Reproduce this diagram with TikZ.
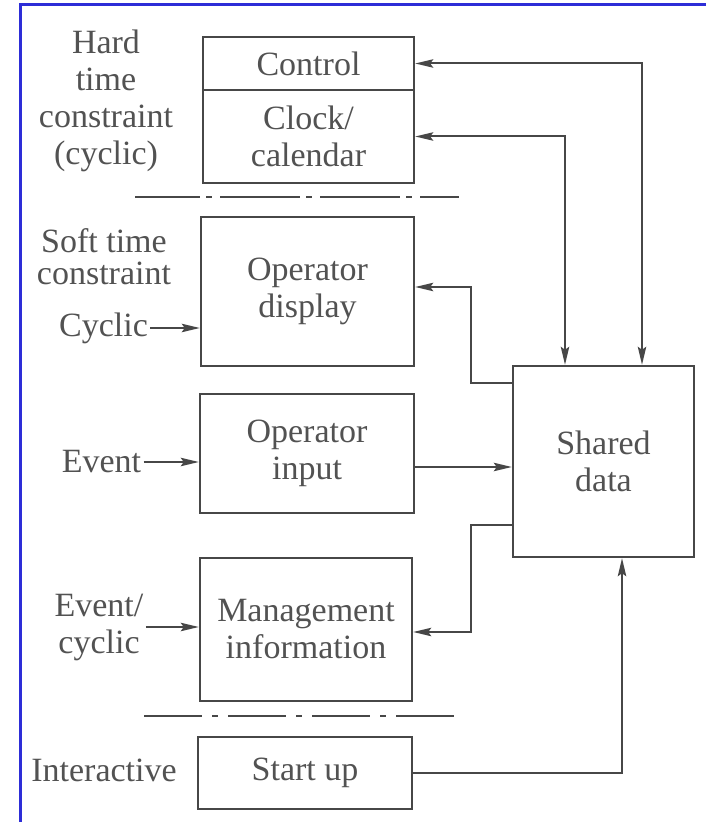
\documentclass[tikz,border=0pt]{standalone}
\usepackage{fontspec}
\setmainfont{Liberation Serif}
\usetikzlibrary{arrows.meta,calc}
\definecolor{framec}{RGB}{45,45,215}
\colorlet{linec}{black!72}
\colorlet{textc}{black!68}
\tikzset{
  x=0.5pt, y=-0.5pt,
  every node/.style={text=textc, font=\fontsize{17}{18.5}\selectfont},
  blockbox/.style={draw=linec, line width=1.2pt, inner sep=0pt, align=center},
  sidelabel/.style={inner sep=1pt, align=center},
  tip/.style={},
  conn/.style={draw=linec, line width=1pt, -{Stealth[length=9pt,width=4.2pt,inset=1.5pt]}},
  biconn/.style={draw=linec, line width=1pt, {Stealth[length=9pt,width=4.2pt,inset=1.5pt]}-{Stealth[length=9pt,width=4.2pt,inset=1.5pt]}},
  sepone/.style={draw=linec, line width=1.2pt, dash pattern=on 40pt off 3pt on 3pt off 4pt, dash phase=7.5pt},
  septwo/.style={draw=linec, line width=1.2pt, dash pattern=on 29pt off 5pt on 3pt off 5pt},
}
\begin{document}
\begin{tikzpicture}
\useasboundingbox (0,0) rectangle (706,822);
\fill[white] (0,0) rectangle (706,822);

% frame edges
\draw[framec, line width=1.5pt] (706,5) -- (20,5) -- (20,822);

% task blocks
\node[blockbox, minimum width=105.5pt, minimum height=26.5pt] (control) at (308.5,63.5) {Control};
\node[blockbox, minimum width=105.5pt, minimum height=46.5pt] (clock) at (308.5,136.5) {Clock/\\calendar};
\node[blockbox, minimum width=106.5pt, minimum height=74.5pt] (display) at (307.5,291.5) {Operator\\display};
\node[blockbox, minimum width=107pt, minimum height=59.5pt] (input) at (307,453.5) {Operator\\input};
\node[blockbox, minimum width=106pt, minimum height=71.5pt] (mgmt) at (306,629.5) {Management\\information};
\node[blockbox, minimum width=107pt, minimum height=36pt] (startup) at (305,773) {Start up};
\node[blockbox, minimum width=90.5pt, minimum height=95.5pt] (shared) at (603.5,461.5) {Shared\\data};

% category labels
\node[sidelabel] (hard) at (106,101) {Hard\\time\\constraint\\(cyclic)};
\node[sidelabel, font=\fontsize{17}{16}\selectfont] (soft) at (104,257) {Soft time\\constraint};
\node[sidelabel] (cyclic) at (103.5,328) {Cyclic};
\node[sidelabel] (event) at (101.5,462) {Event};
\node[sidelabel] (evcyc) at (99,627) {Event/\\cyclic};
\node[sidelabel] (interactive) at (104,770) {Interactive};

% separators between constraint classes
\draw[sepone] (135,197) -- (459,197);
\draw[septwo] (144,716) -- (459,716);

% bend points of the connectors
\coordinate (cx) at (642,0);
\coordinate (kx) at (565,0);
\coordinate (sx) at (622,0);
\coordinate (dA) at (471,383);
\coordinate (dB) at (471,287);
\coordinate (iy) at (0,467);
\coordinate (mA) at (471,525);
\coordinate (mB) at (471,632);

% inputs from the left
\draw[conn] (cyclic.east) -- (display.west |- cyclic.east);
\draw[conn] (event.east) -- (input.west |- event.east);
\draw[conn] (evcyc.east) -- (mgmt.west |- evcyc.east);

% links with the shared data
\draw[biconn] (control.east) -| (shared.north -| cx);
\draw[biconn] (clock.east) -| (shared.north -| kx);
\draw[conn] (shared.west |- dA) -- (dA) -- (dB) -- (display.east |- dB);
\draw[conn] (input.east |- iy) -- (shared.west |- iy);
\draw[conn] (shared.west |- mA) -- (mA) -- (mB) -- (mgmt.east |- mB);
\draw[conn] (startup.east) -| (shared.south -| sx);
\end{tikzpicture}
\end{document}
